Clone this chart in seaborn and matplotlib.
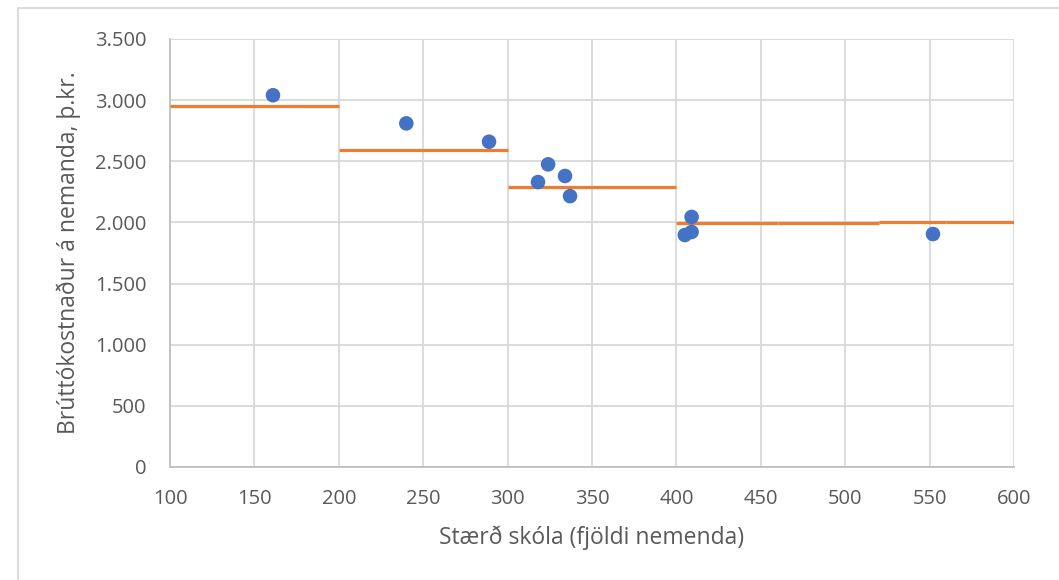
import matplotlib
matplotlib.use("Agg")
import matplotlib.pyplot as plt
from matplotlib.ticker import FuncFormatter, MultipleLocator
from matplotlib.lines import Line2D
import seaborn as sns
import pandas as pd

# School size (students) vs gross cost per student (thousand ISK)
students = [161, 240, 289, 318, 324, 334, 337, 405, 409, 409, 552]
cost = [3040, 2810, 2660, 2330, 2475, 2380, 2215, 1897, 1922, 2045, 1905]

# Orange step line: start, end and level of each segment
step_start = [100, 200, 300, 400, 460, 520, 560]
step_end = [200, 300, 400, 460, 520, 560, 600]
step_level = [2955, 2592, 2290, 1998, 1992, 2000, 2004]

x_label = "Stærð skóla (fjöldi nemenda)"
y_label = "Brúttókostnaður á nemanda, þ.kr."

sns.set_theme(style="white")
plt.rcParams["font.family"] = ["Open Sans", "DejaVu Sans"]

text_col = "#595959"
grid_col = "#d9d9d9"

fig = plt.figure(figsize=(10.59, 5.80), dpi=100)
ax = fig.add_axes([170 / 1059, 1 - 467 / 580, (1014 - 170) / 1059, (467 - 39) / 580])

df = pd.DataFrame({"students": students, "cost": cost})

ax.hlines(step_level, step_start, step_end, color="#ED7D31", linewidth=2.3, zorder=3)
sns.scatterplot(data=df, x="students", y="cost", color="#4472C4", s=110,
                edgecolor="none", ax=ax, zorder=4)

ax.set_xlim(100, 600)
ax.set_ylim(0, 3500)
ax.xaxis.set_major_locator(MultipleLocator(50))
ax.yaxis.set_major_locator(MultipleLocator(500))
ax.yaxis.set_major_formatter(FuncFormatter(lambda v, p: f"{v:,.0f}".replace(",", ".")))

ax.grid(True, color=grid_col, linewidth=1.3, zorder=0)
ax.set_axisbelow(True)
for side in ["top", "right"]:
    ax.spines[side].set_visible(False)
for side in ["left", "bottom"]:
    ax.spines[side].set_color("#bfbfbf")
    ax.spines[side].set_linewidth(1.3)

ax.tick_params(axis="both", length=0, labelsize=14.5, labelcolor=text_col)
ax.tick_params(axis="y", pad=17)
ax.tick_params(axis="x", pad=16)

ax.set_xlabel(x_label, fontsize=16.5, color=text_col, labelpad=12)
ax.set_ylabel(y_label, fontsize=16.5, color=text_col, labelpad=10)

# outer chart frame (left and top edges visible)
fig.add_artist(Line2D([18 / 1059, 18 / 1059], [0, 1 - 8 / 580], color="#d9d9d9",
                      linewidth=1.3, transform=fig.transFigure))
fig.add_artist(Line2D([18 / 1059, 1], [1 - 8 / 580, 1 - 8 / 580], color="#d9d9d9",
                      linewidth=1.3, transform=fig.transFigure))

fig.savefig("out.png", dpi=100)
